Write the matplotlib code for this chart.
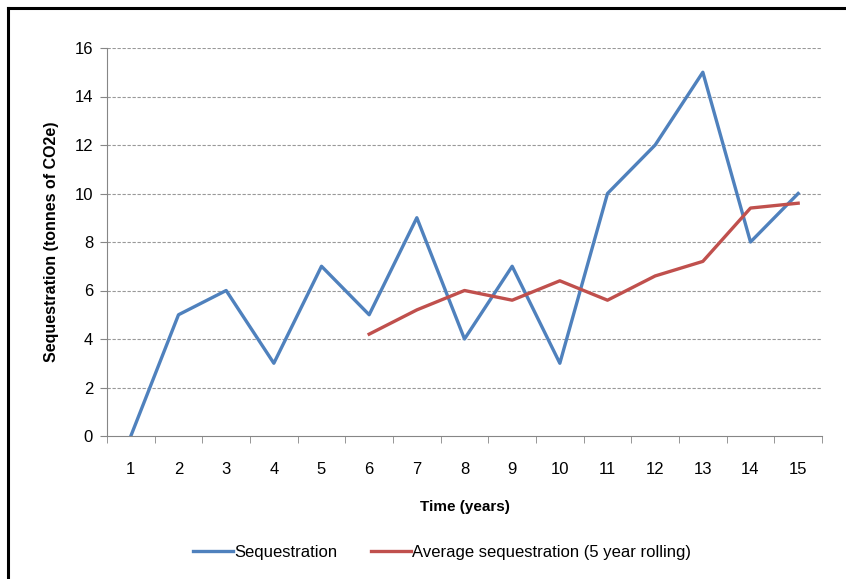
import numpy as np
import matplotlib
matplotlib.use("Agg")
import matplotlib.pyplot as plt
from matplotlib.lines import Line2D

plt.rcParams['font.family'] = ['Liberation Sans Narrow', 'Liberation Sans', 'DejaVu Sans']

# data
years = list(range(1, 16))
sequestration = [0, 5, 6, 3, 7, 5, 9, 4, 7, 3, 10, 12, 15, 8, 10]
avg_years = list(range(6, 16))
avg_rolling = [4.2, 5.2, 6.0, 5.6, 6.4, 5.6, 6.6, 7.2, 9.4, 9.6]

fig = plt.figure(figsize=(8.46, 5.79), dpi=100)
ax = fig.add_axes([107/846, 1 - 436/579, (822-107)/846, (436-48)/579])

ax.plot(years, sequestration, color='#4F81BD', lw=2.4, label='Sequestration', solid_joinstyle='round')
ax.plot(avg_years, avg_rolling, color='#C0504D', lw=2.4,
        label='Average sequestration (5 year rolling)', solid_joinstyle='round')

ax.set_xlim(0.5, 15.5)
ax.set_ylim(0, 16)
ax.set_yticks(np.arange(0, 17, 2))
ax.set_xticks(years)
ax.set_xticks(np.arange(0.5, 15.6, 1), minor=True)
ax.tick_params(axis='x', which='major', length=0, pad=19, labelsize=12)
ax.tick_params(axis='x', which='minor', length=5, color='#868686')
ax.tick_params(axis='y', length=5, color='#868686', labelsize=12, pad=5)

for y in range(2, 17, 2):
    ax.axhline(y, color='#999999', lw=0.8, ls=(0, (3, 1.5)), zorder=0)

for s in ['top', 'right']:
    ax.spines[s].set_visible(False)
ax.spines['left'].set_color('#868686')
ax.spines['bottom'].set_color('#868686')

ax.set_xlabel('Time (years)', fontweight='bold', fontsize=11, labelpad=16)
ax.set_ylabel('Sequestration (tonnes of CO2e)', fontweight='bold', fontsize=11.5, labelpad=11)

fig.legend(loc='center', bbox_to_anchor=(442/846, 1 - 552/579), ncol=2, frameon=False,
           fontsize=12, handlelength=2.4, handletextpad=0.1, columnspacing=2.0)

# outer frame (left and top edges visible)
fig.add_artist(Line2D([8/846, 8/846], [0, 1 - 8/579], color='black', lw=2.2, transform=fig.transFigure))
fig.add_artist(Line2D([8/846, 1], [1 - 8/579, 1 - 8/579], color='black', lw=2.2, transform=fig.transFigure))

fig.savefig('out.png', dpi=100)
